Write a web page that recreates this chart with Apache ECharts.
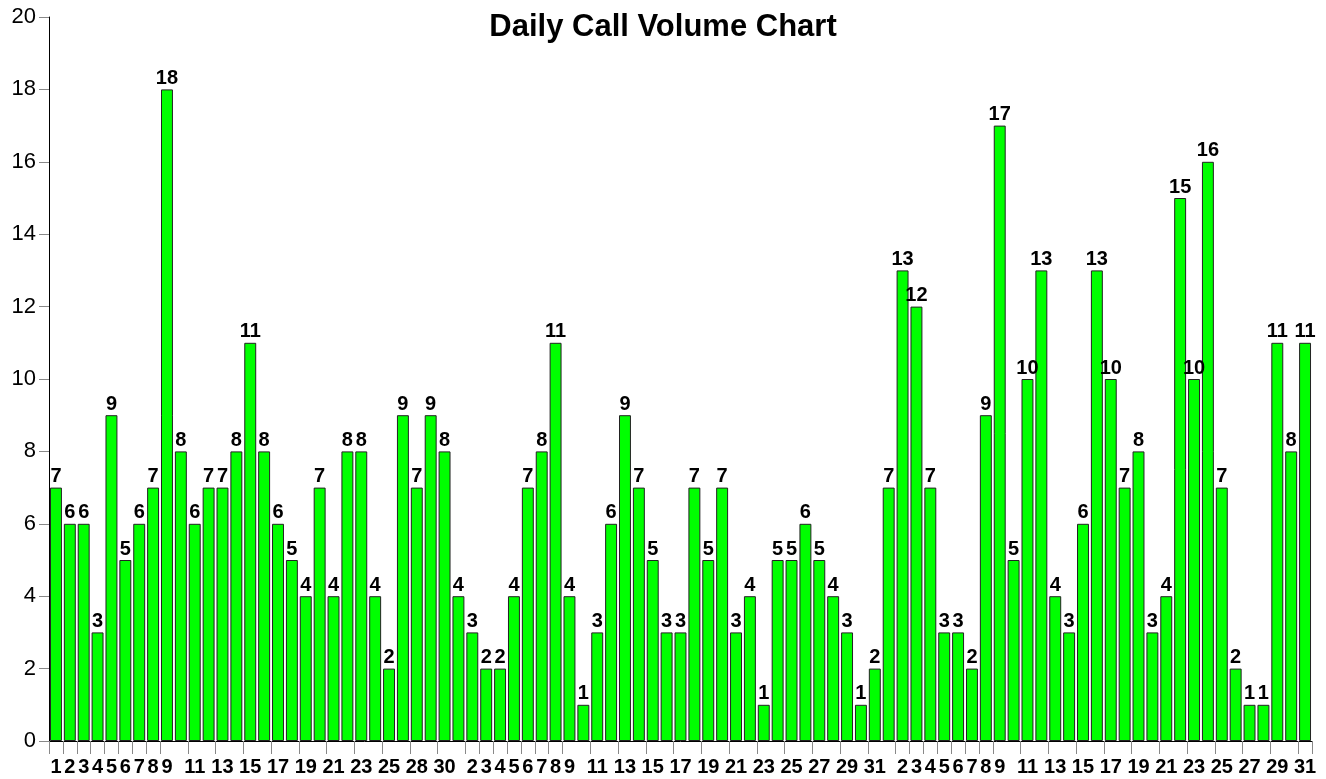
<!DOCTYPE html>
<html>
<head>
<meta charset="utf-8">
<title>Daily Call Volume Chart</title>
<script src="https://cdn.jsdelivr.net/npm/echarts@6/dist/echarts.min.js"></script>
<style>
  html, body { margin: 0; padding: 0; background: #fff; }
  #chart { width: 1326px; height: 779px; }
</style>
</head>
<body>
<div id="chart"></div>
<script>
// ── 数据 ──────────────────────────────────────────────
// three months of days; the first month has no day 26
const days = [
  1, 2, 3, 4, 5, 6, 7, 8, 9, 10, 11, 12, 13, 14, 15, 16, 17, 18, 19, 20, 21, 22, 23, 24, 25, 27, 28, 29, 30,
  1, 2, 3, 4, 5, 6, 7, 8, 9, 10, 11, 12, 13, 14, 15, 16, 17, 18, 19, 20, 21, 22, 23, 24, 25, 26, 27, 28, 29, 30, 31,
  1, 2, 3, 4, 5, 6, 7, 8, 9, 10, 11, 12, 13, 14, 15, 16, 17, 18, 19, 20, 21, 22, 23, 24, 25, 26, 27, 28, 29, 30, 31
];
const calls = [
  7, 6, 6, 3, 9, 5, 6, 7, 18, 8, 6, 7, 7, 8, 11, 8, 6, 5, 4, 7, 4, 8, 8, 4, 2, 9, 7, 9, 8,
  4, 3, 2, 2, 4, 7, 8, 11, 4, 1, 3, 6, 9, 7, 5, 3, 3, 7, 5, 7, 3, 4, 1, 5, 5, 6, 5, 4, 3, 1, 2,
  7, 13, 12, 7, 3, 3, 2, 9, 17, 5, 10, 13, 4, 3, 6, 13, 10, 7, 8, 3, 4, 15, 10, 16, 7, 2, 1, 1, 11, 8, 11
];
const yTicks = [0, 2, 4, 6, 8, 10, 12, 14, 16, 18, 20];

// ── 布局 ──────────────────────────────────────────────
const W = 1326, GRID_L = 49, GRID_R = 14;
const LABEL_FONT = 20;

// 标签避让：逐个放置，和上一个显示的重叠就隐藏
const pitch = (W - GRID_L - GRID_R) / days.length;
const showLabel = [];
let lastRight = -Infinity;
days.forEach((d, i) => {
  const c = GRID_L + pitch * (i + 0.5);
  const half = String(d).length * LABEL_FONT * 0.556 / 2;
  if (c - half >= lastRight + 1) {
    showLabel.push(true);
    lastRight = c + half;
  } else {
    showLabel.push(false);
  }
});

const chart = echarts.init(document.getElementById('chart'), null, { renderer: 'canvas' });

chart.setOption({
  animation: false,
  backgroundColor: '#ffffff',
  textStyle: { fontFamily: 'Liberation Sans, Arial, sans-serif' },
  title: {
    text: 'Daily Call Volume Chart',
    left: 'center',
    top: 7,
    textStyle: { fontSize: 31, fontWeight: 'bold', color: '#000' }
  },
  grid: { left: GRID_L, right: GRID_R, top: 17, bottom: 38, containLabel: false },
  xAxis: {
    type: 'category',
    data: days.map(String),
    axisLine: { show: true, lineStyle: { color: '#000', width: 1 } },
    axisTick: { show: true, length: 13, lineStyle: { color: '#888' } },
    axisLabel: {
      interval: (i) => showLabel[i],
      margin: 16,
      fontSize: LABEL_FONT,
      fontWeight: 'bold',
      color: '#000'
    },
    splitLine: { show: false }
  },
  yAxis: {
    type: 'value',
    min: yTicks[0],
    max: yTicks[yTicks.length - 1],
    interval: yTicks[1] - yTicks[0],
    axisLine: { show: true, lineStyle: { color: '#000', width: 1 } },
    axisTick: { show: true, length: 10, lineStyle: { color: '#888' } },
    axisLabel: { margin: 13, fontSize: 22, color: '#000' },
    splitLine: { show: false }
  },
  series: [{
    type: 'bar',
    data: calls,
    barCategoryGap: '14%',
    itemStyle: { color: '#00ff00', borderColor: '#222', borderWidth: 1 },
    label: {
      show: true,
      position: 'top',
      distance: 1,
      fontSize: 20,
      fontWeight: 'bold',
      color: '#000'
    }
  }]
});
</script>
</body>
</html>
